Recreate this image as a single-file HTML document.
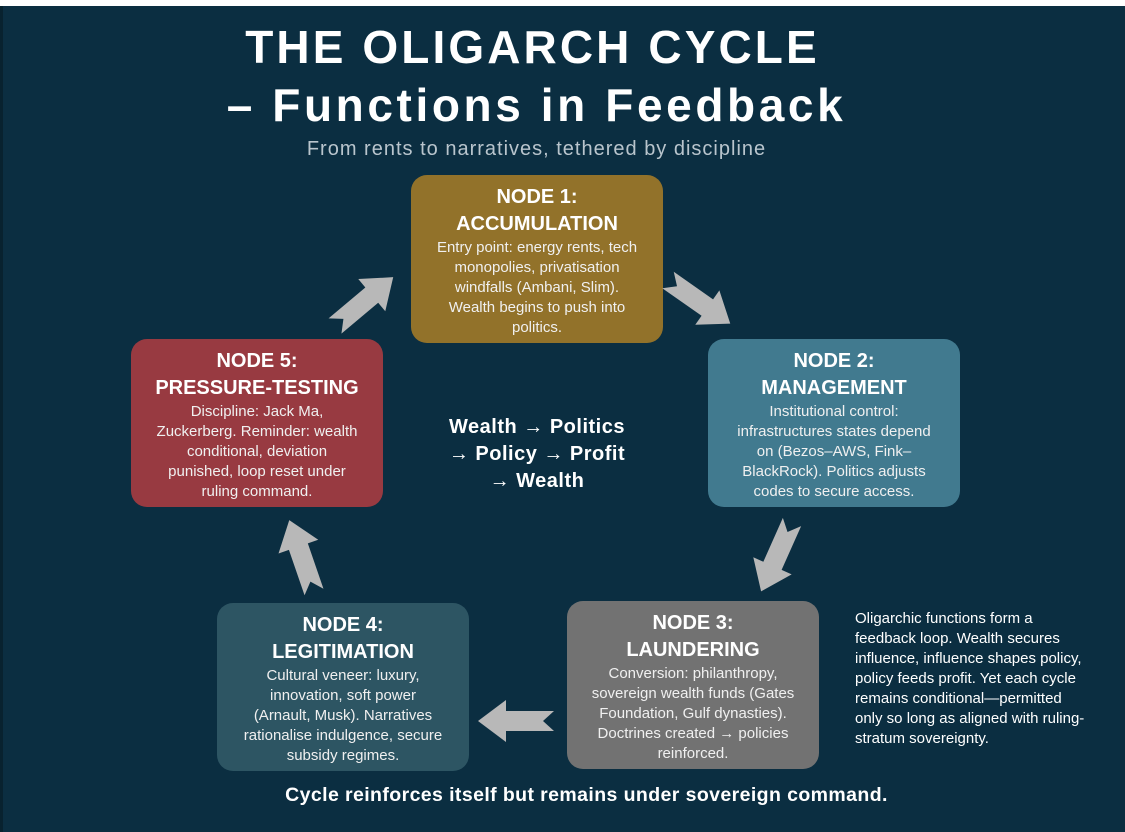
<!DOCTYPE html>
<html><head><meta charset="utf-8"><style>
body{margin:0;width:1125px;height:832px;overflow:hidden;background:#fff;font-family:"Liberation Sans",sans-serif}
#bg{position:absolute;left:0;top:6px;width:1125px;height:826px;background:#0b2e41;border-left:3px solid #08222f;box-sizing:border-box}
.t{position:absolute;left:0;width:1125px;text-align:center;color:#fff;font-weight:bold}
.node{position:absolute;width:252px;height:168px;border-radius:16px;color:#fff;text-align:center;box-sizing:border-box;padding-top:9px}
.node h{display:block;font-weight:bold;font-size:20px;line-height:27px}
.node p{margin:0;font-size:15px;line-height:20px;color:#f0f0f0}
</style></head><body>
<div id="bg"></div>
<div class="t" style="top:20px;left:-30px;font-size:46px;letter-spacing:3.1px;line-height:54px">THE OLIGARCH CYCLE</div>
<div class="t" style="top:78px;left:-26px;font-size:46px;letter-spacing:3.6px;line-height:54px">– Functions in Feedback</div>
<div class="t" style="top:138px;left:-26px;font-size:20px;font-weight:normal;color:#b9c5cd;letter-spacing:1px">From rents to narratives, tethered by discipline</div>

<div class="node" style="left:411px;top:175px;background:#92722a"><h>NODE 1:<br>ACCUMULATION</h><p>Entry point: energy rents, tech<br>monopolies, privatisation<br>windfalls (Ambani, Slim).<br>Wealth begins to push into<br>politics.</p></div>
<div class="node" style="left:708px;top:339px;background:#417a8f"><h>NODE 2:<br>MANAGEMENT</h><p>Institutional control:<br>infrastructures states depend<br>on (Bezos–AWS, Fink–<br>BlackRock). Politics adjusts<br>codes to secure access.</p></div>
<div class="node" style="left:567px;top:601px;background:#727272"><h>NODE 3:<br>LAUNDERING</h><p>Conversion: philanthropy,<br>sovereign wealth funds (Gates<br>Foundation, Gulf dynasties).<br>Doctrines created → policies<br>reinforced.</p></div>
<div class="node" style="left:217px;top:603px;background:#2d5563"><h>NODE 4:<br>LEGITIMATION</h><p>Cultural veneer: luxury,<br>innovation, soft power<br>(Arnault, Musk). Narratives<br>rationalise indulgence, secure<br>subsidy regimes.</p></div>
<div class="node" style="left:131px;top:339px;background:#983a41"><h>NODE 5:<br>PRESSURE-TESTING</h><p>Discipline: Jack Ma,<br>Zuckerberg. Reminder: wealth<br>conditional, deviation<br>punished, loop reset under<br>ruling command.</p></div>

<div style="position:absolute;left:432px;top:414px;width:210px;text-align:center;color:#fff;font-weight:bold;font-size:20px;line-height:27px;letter-spacing:0.5px">Wealth → Politics<br>→ Policy → Profit<br>→ Wealth</div>

<div style="position:absolute;left:855px;top:609px;width:270px;color:#fff;font-size:15px;line-height:20px">Oligarchic functions form a<br>feedback loop. Wealth secures<br>influence, influence shapes policy,<br>policy feeds profit. Yet each cycle<br>remains conditional—permitted<br>only so long as aligned with ruling-<br>stratum sovereignty.</div>

<div class="t" style="top:784px;left:24px;font-size:19.5px;letter-spacing:0.4px">Cycle reinforces itself but remains under sovereign command.</div>

<svg width="1125" height="832" style="position:absolute;left:0;top:0">
<defs><polygon id="ar" points="0,-10 48,-10 48,-21 76,0 48,21 48,10 0,10 11,0" fill="#b8b8b8"/></defs>
<use href="#ar" transform="translate(335,326) rotate(-40)"/>
<use href="#ar" transform="translate(668,280) rotate(35)"/>
<use href="#ar" transform="translate(792,522) rotate(114)"/>
<use href="#ar" transform="translate(554,721) rotate(180)"/>
<use href="#ar" transform="translate(314,592) rotate(-109)"/>
</svg>
</body></html>
